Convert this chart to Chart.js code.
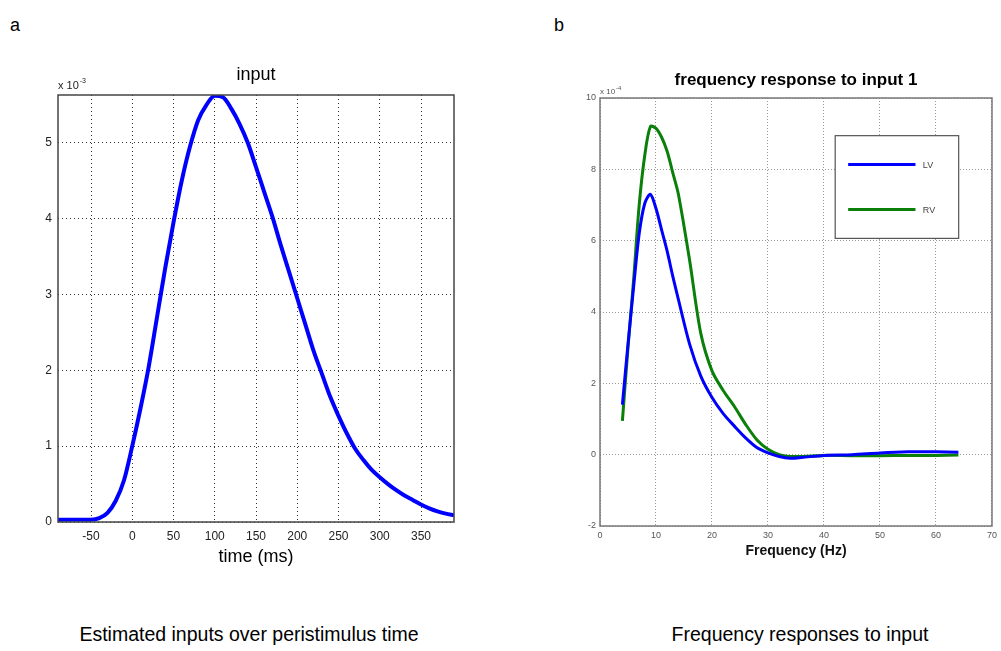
<!DOCTYPE html>
<html>
<head>
<meta charset="utf-8">
<script src="https://cdn.jsdelivr.net/npm/chart.js@4/dist/chart.umd.min.js"></script>
<style>
  html, body { margin: 0; padding: 0; background: #fff; }
  body { width: 1001px; height: 651px; position: relative; overflow: hidden; font-family: "Liberation Sans", Arial, sans-serif; }
  .panel { position: absolute; top: 0; height: 600px; }
  .tag { position: absolute; top: 15px; font-size: 18px; color: #000; }
  .caption { position: absolute; top: 623px; font-size: 19.5px; color: #000; text-align: center; white-space: nowrap; }
</style>
</head>
<body>
<div class="tag" style="left:10px">a</div>
<div class="tag" style="left:554px">b</div>
<div class="panel" style="left:0; width:470px"><canvas id="inputChart"></canvas></div>
<div class="panel" style="left:540px; width:461px"><canvas id="freqChart"></canvas></div>
<div class="caption" style="left:49px; width:400px">Estimated inputs over peristimulus time</div>
<div class="caption" style="left:600px; width:400px">Frequency responses to input</div>

<script>
// panel a: estimated input (x 10^-3)
const timeMs = [-90, -80, -70, -60, -50, -40, -30, -20, -10, 0, 10, 20, 30, 40, 50, 60, 70, 80, 90, 100,
  110, 120, 130, 140, 150, 160, 170, 180, 190, 200, 210, 220, 230, 240, 250, 260, 270, 280, 290, 300,
  310, 320, 330, 340, 350, 360, 370, 380, 390];
const inputValues = [0.03, 0.03, 0.03, 0.03, 0.03, 0.05, 0.12, 0.28, 0.55, 1.0, 1.5, 2.05, 2.7, 3.35, 3.95, 4.5, 4.95, 5.3, 5.5, 5.62,
  5.6, 5.45, 5.25, 5.0, 4.68, 4.35, 4.02, 3.65, 3.3, 2.95, 2.6, 2.25, 1.95, 1.65, 1.4, 1.17, 0.97, 0.82, 0.69, 0.59,
  0.5, 0.42, 0.35, 0.29, 0.23, 0.18, 0.14, 0.11, 0.09];
const timeTicks = [-50, 0, 50, 100, 150, 200, 250, 300, 350];
const inputTicks = [0, 1, 2, 3, 4, 5];

// panel b: frequency response (x 10^-4)
const freqHz = [4, 5, 6, 7, 8, 9, 10, 11, 12, 13, 14, 16, 18, 20, 22, 24, 26, 28, 30, 32, 34, 36, 40, 45, 50, 55, 60, 64];
const lvValues = [1.4, 3.1, 4.7, 6.2, 7.05, 7.3, 6.9, 6.3, 5.7, 5.0, 4.35, 3.1, 2.2, 1.6, 1.15, 0.8, 0.47, 0.2, 0.05, -0.05, -0.1, -0.08, -0.02, 0.0, 0.05, 0.08, 0.08, 0.07];
const rvValues = [0.95, 3.0, 4.9, 7.0, 8.4, 9.2, 9.15, 8.9, 8.5, 7.9, 7.3, 5.45, 3.4, 2.35, 1.8, 1.35, 0.85, 0.42, 0.15, 0.0, -0.05, -0.05, -0.02, -0.03, -0.03, -0.02, -0.02, -0.01];
const freqTicks = [0, 10, 20, 30, 40, 50, 60, 70];
const respTicks = [-2, 0, 2, 4, 6, 8, 10];

const FONT = "'Liberation Sans', Arial, sans-serif";
const toPoints = (xs, ys) => xs.map((x, i) => ({ x, y: ys[i] }));

// matlab style: box round the axes, title centred over the axes, "x 10^n" multiplier
const matlabAxes = (opts) => ({
  id: "matlabAxes",
  afterDraw(chart) {
    const { ctx, chartArea: a } = chart;
    ctx.save();
    ctx.strokeStyle = opts.frame;
    ctx.lineWidth = 1.5;
    ctx.strokeRect(a.left, a.top, a.right - a.left, a.bottom - a.top);

    ctx.fillStyle = "#000";
    ctx.font = opts.titleFont;
    ctx.textAlign = "center";
    ctx.textBaseline = "middle";
    ctx.fillText(opts.title, (a.left + a.right) / 2, a.top - opts.titleGap);

    ctx.textAlign = "left";
    ctx.textBaseline = "alphabetic";
    ctx.fillStyle = opts.expColor;
    ctx.font = opts.expSize + "px " + FONT;
    const base = "x 10";
    const y = a.top - opts.expSize * 0.55;
    ctx.fillText(base, a.left, y);
    const w = ctx.measureText(base).width;
    ctx.font = opts.supSize + "px " + FONT;
    ctx.fillText(opts.exponent, a.left + w + 1, y - opts.expSize * 0.5);
    ctx.restore();
  },
});

// legend box in the upper right of panel b, as in the original figure
const boxLegend = {
  id: "boxLegend",
  afterDraw(chart) {
    const { ctx, chartArea: a } = chart;
    const w = a.right - a.left, h = a.bottom - a.top;
    const bx = a.left + w * 0.60, by = a.top + h * 0.088;
    const bw = w * 0.315, bh = h * 0.24;
    ctx.save();
    ctx.fillStyle = "#fff";
    ctx.fillRect(bx, by, bw, bh);
    ctx.strokeStyle = "#555";
    ctx.lineWidth = 1.2;
    ctx.strokeRect(bx, by, bw, bh);
    chart.data.datasets.forEach((ds, i) => {
      const ly = by + bh * (0.28 + i * 0.44);
      ctx.strokeStyle = ds.borderColor;
      ctx.lineWidth = 3;
      ctx.beginPath();
      ctx.moveTo(bx + bw * 0.105, ly);
      ctx.lineTo(bx + bw * 0.65, ly);
      ctx.stroke();
      ctx.fillStyle = "#444";
      ctx.font = "9px " + FONT;
      ctx.textBaseline = "middle";
      ctx.fillText(ds.label, bx + bw * 0.71, ly + 1);
    });
    ctx.restore();
  },
};

new Chart(document.getElementById("inputChart"), {
  type: "line",
  data: {
    datasets: [
      {
        label: "input",
        data: toPoints(timeMs, inputValues),
        borderColor: "#0000ff",
        borderWidth: 4,
        pointRadius: 0,
        cubicInterpolationMode: "monotone",
      },
    ],
  },
  options: {
    responsive: true,
    maintainAspectRatio: false,
    animation: false,
    layout: { padding: { top: 95, left: 0, right: 16, bottom: 28 } },
    plugins: {
      legend: { display: false },
      tooltip: { enabled: false },
    },
    scales: {
      x: {
        type: "linear",
        min: -90,
        max: 390,
        afterBuildTicks: (scale) => { scale.ticks = timeTicks.map((v) => ({ value: v })); },
        afterFit: (scale) => { scale.height = 50; },
        ticks: { color: "#222", padding: 7, maxRotation: 0, font: { size: 12, family: FONT } },
        grid: { color: "#333", drawTicks: false },
        border: { display: false, dash: [1, 3] },
        title: {
          display: true,
          text: "time (ms)",
          color: "#000",
          font: { size: 18, family: FONT },
          padding: { top: 0, bottom: 4 },
        },
      },
      y: {
        type: "linear",
        min: 0,
        max: 5.63,
        afterBuildTicks: (scale) => { scale.ticks = inputTicks.map((v) => ({ value: v })); },
        afterFit: (scale) => { scale.width = 58; },
        ticks: { color: "#222", padding: 6, font: { size: 12, family: FONT } },
        grid: { color: "#333", drawTicks: false },
        border: { display: false, dash: [1, 3] },
      },
    },
  },
  plugins: [matlabAxes({
    frame: "#444", title: "input", titleFont: "18px " + FONT, titleGap: 20,
    exponent: "-3", expSize: 11, supSize: 7, expColor: "#222",
  })],
});

new Chart(document.getElementById("freqChart"), {
  type: "line",
  data: {
    datasets: [
      {
        label: "LV",
        data: toPoints(freqHz, lvValues),
        borderColor: "#0000ff",
        borderWidth: 3,
        pointRadius: 0,
        tension: 0.3,
      },
      {
        label: "RV",
        data: toPoints(freqHz, rvValues),
        borderColor: "#0a800a",
        borderWidth: 3,
        pointRadius: 0,
        tension: 0.3,
      },
    ],
  },
  options: {
    responsive: true,
    maintainAspectRatio: false,
    animation: false,
    layout: { padding: { top: 98, left: 0, right: 6, bottom: 34 } },
    plugins: {
      legend: { display: false },
      tooltip: { enabled: false },
    },
    scales: {
      x: {
        type: "linear",
        min: 0,
        max: 70,
        afterBuildTicks: (scale) => { scale.ticks = freqTicks.map((v) => ({ value: v })); },
        afterFit: (scale) => { scale.height = 40; },
        ticks: { color: "#555", padding: 4, maxRotation: 0, font: { size: 9, family: FONT } },
        grid: { color: "#999", drawTicks: false },
        border: { display: false, dash: [1, 2] },
        title: {
          display: true,
          text: "Frequency (Hz)",
          color: "#111",
          font: { size: 14, weight: "bold", family: FONT },
          padding: { top: 0, bottom: 6 },
        },
      },
      y: {
        type: "linear",
        min: -2,
        max: 10,
        afterBuildTicks: (scale) => { scale.ticks = respTicks.map((v) => ({ value: v })); },
        afterFit: (scale) => { scale.width = 60; },
        ticks: { color: "#555", padding: 4, font: { size: 9, family: FONT } },
        grid: { color: "#999", drawTicks: false },
        border: { display: false, dash: [1, 2] },
      },
    },
  },
  plugins: [matlabAxes({
    frame: "#777", title: "frequency response to input 1", titleFont: "bold 17px " + FONT, titleGap: 18,
    exponent: "-4", expSize: 8, supSize: 6, expColor: "#555",
  }), boxLegend],
});
</script>
</body>
</html>
